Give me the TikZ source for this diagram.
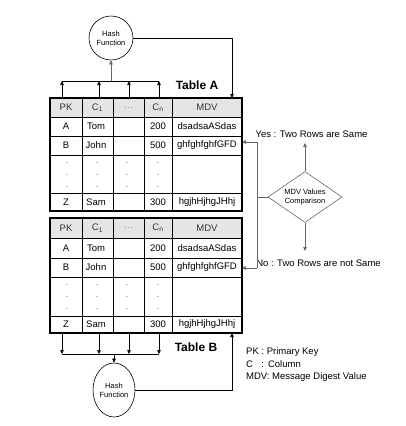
\documentclass[tikz,border=0pt]{standalone}
\usepackage{fontspec}
\setmainfont{Liberation Sans}
\usetikzlibrary{shapes.geometric,arrows.meta}
\tikzset{
  txt/.style={font=\fontsize{9.5}{11}\selectfont, inner sep=0pt},
  hdr/.style={txt, text=black!80},
  small/.style={font=\fontsize{7.5}{9}\selectfont, align=center, inner sep=0pt},
  dotlbl/.style={font=\fontsize{7}{8}\selectfont, inner sep=0pt},
  arr/.style={-{Triangle[length=4pt,width=3.5pt]}, line width=0.6pt},
  garr/.style={arr, draw=black!60},
  thin/.style={line width=0.6pt},
  hashc/.style={ellipse, draw, line width=0.6pt, small},
  ttl/.style={font=\fontsize{12}{14}\selectfont\bfseries, inner sep=0pt},
  leg/.style={txt, anchor=west}
}
% #1 prefix, #2..#7 row boundaries (top, header bottom, A bottom, B bottom, dots bottom, Z bottom)
\newcommand\drawtbl[7]{%
  \fill[black!10] (50,#2) rectangle (242,#3);
  \foreach \yy in {#3,#4,#5,#6} {\draw[thin] (50,\yy) -- (242,\yy);}
  \foreach \xx in {82,113,144,172} {\draw[thin] (\xx,#2) -- (\xx,#7);}
  \draw[line width=1.6pt] (50,#2) rectangle (242,#7);
  \node[hdr] (#1h1) at (66,{(#2+#3)/2}) {PK};
  \node[hdr] (#1h2) at (97.5,{(#2+#3)/2}) {C\textsubscript{1}};
  \node[hdr, text=black!45] (#1h3) at (128.5,{(#2+#3)/2}) {\dots};
  \node[hdr] (#1h4) at (158,{(#2+#3)/2}) {C\textsubscript{n}};
  \node[hdr] (#1h5) at (207,{(#2+#3)/2}) {MDV};
  \node[txt] (#1a1) at (66,{(#3+#4)/2}) {A};
  \node[txt] (#1a2) at (96,{(#3+#4)/2}) {Tom};
  \node[txt] (#1a4) at (158,{(#3+#4)/2}) {200};
  \node[txt] (#1a5) at (207,{(#3+#4)/2}) {dsadsaASdas};
  \node[txt] (#1b1) at (66,{(#4+#5)/2}) {B};
  \node[txt] (#1b2) at (96,{(#4+#5)/2}) {John};
  \node[txt] (#1b4) at (158,{(#4+#5)/2}) {500};
  \node[txt] (#1b5) at (207,{(#4+#5)/2}) {ghfghfghfGFD};
  \foreach \xx/\k in {67/1,97/2,127/3,158/4} {
    \node[dotlbl] (#1d\k x) at (\xx,{#5+8}) {.};
    \node[dotlbl] (#1d\k y) at (\xx,{#5+20}) {.};
    \node[dotlbl] (#1d\k z) at (\xx,{#5+32}) {.};
  }
  \node[txt] (#1z1) at (66,{(#6+#7)/2}) {Z};
  \node[txt] (#1z2) at (96,{(#6+#7)/2}) {Sam};
  \node[txt] (#1z4) at (158,{(#6+#7)/2}) {300};
  \node[txt] (#1z5) at (207,{(#6+#7)/2}) {hgjhHjhgJHhj};
}
\begin{document}
\begin{tikzpicture}[x=1pt,y=-1pt]
\useasboundingbox (0,0) rectangle (405,426);
\fill[white] (0,0) rectangle (405,426);

% tables
\drawtbl{TA}{98}{117}{136}{155}{193}{211}
\drawtbl{TB}{218}{238}{258}{277}{316}{333}
\node[ttl] (lblA) at (197,85) {Table A};
\node[ttl] (lblB) at (196,347) {Table B};

% hash functions
\node[hashc, minimum width=44pt, minimum height=44pt] (hashA) at (111,38) {Hash\\Function};
\node[hashc, minimum width=42pt, minimum height=54pt] (hashB) at (114,390) {Hash\\Function};

% top bus
\foreach \xx/\k in {62/1,99/2,129/3,159/4} {
  \coordinate (sa\k) at (\xx,98);
  \coordinate (ua\k) at (\xx,81);
  \draw[arr] (sa\k) -- (ua\k);
}
\draw[thin] (ua1) -- (ua4);
\coordinate (ma) at (111,81);
\draw[arr, draw=black!60] (ma) -- (hashA.south);
\coordinate (ta) at (232,98);
\draw[arr] (hashA.east) -| (ta);

% bottom bus
\foreach \xx/\k in {62/1,99/2,129/3,159/4} {
  \coordinate (sb\k) at (\xx,333);
  \coordinate (ub\k) at (\xx,354);
  \draw[arr] (sb\k) -- (ub\k);
}
\draw[thin] (ub1) -- (ub4);
\coordinate (mb) at (114,354);
\draw[arr] (mb) -- (hashB.north);
\coordinate (tb) at (232,333);
\draw[arr] (hashB.east) -| (tb);

% comparison
\node[diamond, draw=black!60, line width=0.6pt, minimum width=74pt, minimum height=51pt, aspect=1.45, inner sep=0pt, small] (cmp) at (305,197) {MDV Values\\Comparison};
\node[txt] (yes) at (311.5,134) {Yes : Two Rows are Same};
\node[txt] (no) at (318.5,263) {No : Two Rows are not Same};
\coordinate (yt) at (305,143);
\coordinate (nt) at (305,251);
\draw[garr] (cmp.north) -- (yt);
\draw[garr] (cmp.south) -- (nt);
\coordinate (jl) at (257,197);
\coordinate (j1) at (257,142);
\coordinate (j2) at (257,268);
\coordinate (ea) at (242,142);
\coordinate (eb) at (242,268);
\draw[thin, draw=black!60] (cmp.west) -- (jl);
\draw[thin, draw=black!60] (j1) -- (j2);
\draw[arr, draw=black!60] (j1) -- (ea);
\draw[arr, draw=black!60] (j2) -- (eb);

% legend
\node[leg] (leg1) at (246,352) {PK : Primary Key};
\node[leg] (leg2) at (246,364) {C\hspace{8.4pt}:\hspace{4pt}Column};
\node[leg] (leg3) at (246,377) {MDV: Message Digest Value};
\end{tikzpicture}
\end{document}
